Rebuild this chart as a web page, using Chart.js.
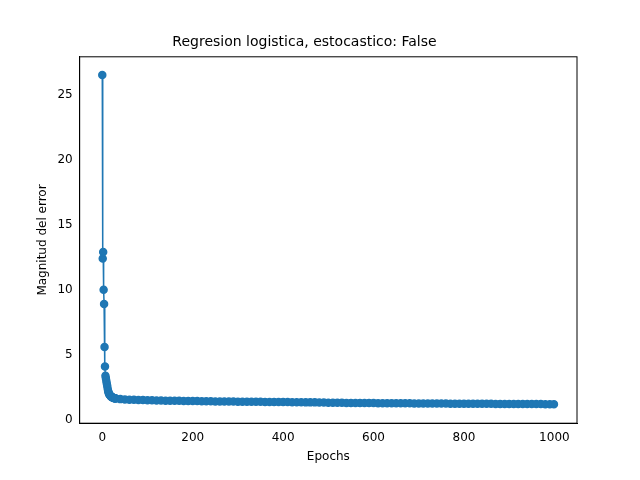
<!DOCTYPE html>
<html><head><meta charset="utf-8">
<script src="https://cdn.jsdelivr.net/npm/chart.js@4"></script>
<style>body{margin:0;background:#fff}#w{width:640px;height:480px}</style>
</head><body><div id="w"><canvas id="c" width="640" height="480"></canvas></div>
<script>
const epochs = [0,1,2,3,4,5,6,7,8,9,10,11,12,13,14,15,16,17,18,19,20,21,22,23,24,25,26,27,28,29,30,
40,50,60,70,80,90,100,110,120,130,140,150,160,170,180,190,200,210,220,230,240,250,260,270,280,290,300,
310,320,330,340,350,360,370,380,390,400,410,420,430,440,450,460,470,480,490,500,510,520,530,540,550,560,
570,580,590,600,610,620,630,640,650,660,670,680,690,700,710,720,730,740,750,760,770,780,790,800,810,820,
830,840,850,860,870,880,890,900,910,920,930,940,950,960,970,980,990,999];
const errors = [26.5,12.4,12.9,10.0,8.9,5.6,4.1,3.4,3.2,3.0,2.8,2.6,2.4,2.2,2.1,2.0,1.95,1.9,1.85,1.8,1.78,1.76,1.74,1.72,1.7,1.69,1.68,1.67,1.66,1.65,1.64,
1.60,1.58,1.56,1.55,1.54,1.53,1.52,1.51,1.50,1.49,1.48,1.48,1.47,1.47,1.46,1.46,1.45,1.45,1.44,1.44,1.43,1.42,1.42,1.41,1.41,1.41,1.40,
1.40,1.40,1.39,1.39,1.39,1.38,1.38,1.38,1.37,1.37,1.37,1.36,1.36,1.36,1.35,1.35,1.35,1.34,1.34,1.33,1.32,1.32,1.32,1.31,1.31,1.31,
1.30,1.30,1.30,1.30,1.29,1.29,1.29,1.29,1.28,1.28,1.28,1.28,1.27,1.27,1.27,1.27,1.26,1.26,1.26,1.26,1.25,1.25,1.25,1.25,1.25,1.24,
1.24,1.24,1.24,1.24,1.23,1.23,1.23,1.23,1.23,1.22,1.22,1.22,1.22,1.22,1.22,1.21,1.21,1.21];
const xTicks=[0,200,400,600,800,1000];
const yTicks=[0,5,10,15,20,25];
const titleText='Regresion logistica, estocastico: False';
const font={family:'DejaVu Sans',size:12};
new Chart(document.getElementById('c'),{
 type:'scatter',
 data:{datasets:[{data:epochs.map((e,i)=>({x:e,y:errors[i]})),showLine:true,borderColor:'#1f77b4',backgroundColor:'#1f77b4',borderWidth:1.5,pointRadius:3.5,pointHoverRadius:3.5}]},
 options:{responsive:false,animation:false,
  layout:{padding:{left:32,right:63,top:0,bottom:12}},
  plugins:{legend:{display:false},tooltip:{enabled:false},
   title:{display:true,text:titleText,color:'#000',font:{family:'DejaVu Sans',size:14,weight:'normal'},padding:{top:34,bottom:6}}},
  scales:{
   x:{type:'linear',min:-50,max:1050,afterBuildTicks:a=>{a.ticks=xTicks.map(v=>({value:v}))},
      grid:{display:false,drawTicks:true,tickLength:4,tickColor:'#000'},border:{color:'#000'},
      ticks:{color:'#000',font,maxRotation:0,callback:v=>String(v)},title:{display:true,text:'Epochs',color:'#000',font,padding:{top:2}}},
   y:{min:-0.25,max:27.9,afterBuildTicks:a=>{a.ticks=yTicks.map(v=>({value:v}))},
      grid:{display:false,drawTicks:true,tickLength:4,tickColor:'#000'},border:{color:'#000'},
      ticks:{color:'#000',font,callback:v=>String(v)},title:{display:true,text:'Magnitud del error',color:'#000',font}}
  }},
 plugins:[{id:'frame',afterDraw(c){const a=c.chartArea,x=c.ctx;x.save();x.strokeStyle='#000';x.lineWidth=1;x.strokeRect(a.left,a.top,a.right-a.left,a.bottom-a.top);x.restore();}}]
});
</script></body></html>
